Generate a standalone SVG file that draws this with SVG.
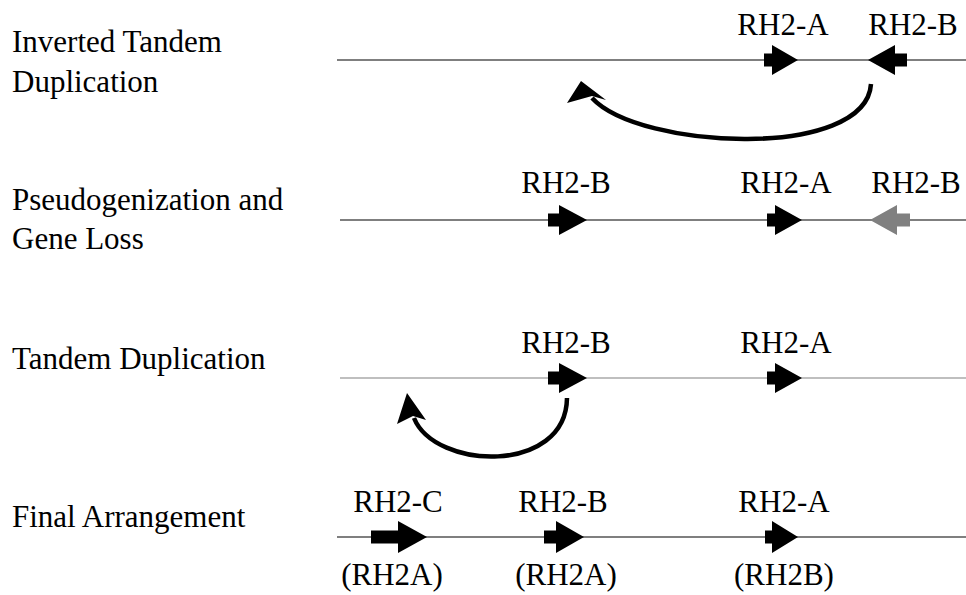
<svg xmlns="http://www.w3.org/2000/svg" width="966" height="595" viewBox="0 0 966 595">
<style>
text{font-family:"Liberation Serif","Times New Roman","DejaVu Serif",serif;font-size:31px;fill:#000}
.gl{text-anchor:middle}
.ln{stroke:#555;stroke-width:1.5;fill:none}
.ln3{stroke:#aaa;stroke-width:1.5;fill:none}
.g{fill:#000}
.gray{fill:#808080}
.cv{stroke:#000;stroke-width:4.5;fill:none}
</style>
<rect width="966" height="595" fill="#fff"/>
<g id="labels">
<text x="12" y="52">Inverted Tandem</text>
<text x="12" y="92">Duplication</text>
<text x="12" y="210">Pseudogenization and</text>
<text x="12" y="249">Gene Loss</text>
<text x="12" y="369">Tandem Duplication</text>
<text x="12" y="527">Final Arrangement</text>
</g>
<g id="row1">
<line class="ln" x1="337" y1="60" x2="966" y2="60"/>
<g id="r1-A"><path class="g" d="M764,53.5H772V45L798,60L772,75V66.5H764Z"/><text class="gl" x="783" y="35">RH2-A</text></g>
<g id="r1-B"><path class="g" d="M907,53.5H895V45L868,60L895,75V66.5H907Z"/><text class="gl" x="913" y="35">RH2-B</text></g>
</g>
<g id="row2">
<line class="ln" x1="340" y1="220" x2="966" y2="220"/>
<g id="r2-B"><path class="g" d="M548,213.5H559V205L587,220L559,235V226.5H548Z"/><text class="gl" x="566" y="193">RH2-B</text></g>
<g id="r2-A"><path class="g" d="M767,213.5H775V205L802,220L775,235V226.5H767Z"/><text class="gl" x="786" y="193">RH2-A</text></g>
<g id="r2-Bpseudo"><path class="gray" d="M910,213.5H897V205L870,220L897,235V226.5H910Z"/><text class="gl" x="916" y="193">RH2-B</text></g>
</g>
<g id="row3">
<line class="ln3" x1="340" y1="378" x2="966" y2="378"/>
<g id="r3-B"><path class="g" d="M548,371.5H559V363L587,378L559,393V384.5H548Z"/><text class="gl" x="566" y="353">RH2-B</text></g>
<g id="r3-A"><path class="g" d="M767,371.5H775V363L802,378L775,393V384.5H767Z"/><text class="gl" x="786" y="353">RH2-A</text></g>
</g>
<g id="row4">
<line class="ln" x1="337" y1="537" x2="966" y2="537"/>
<g id="r4-C"><path class="g" d="M371,530.5H398V521L427,537L398,553V543.5H371Z"/><text class="gl" x="398" y="512">RH2-C</text><text class="gl" x="392" y="585">(RH2A)</text></g>
<g id="r4-B"><path class="g" d="M544,530.5H556V521L584,537L556,553V543.5H544Z"/><text class="gl" x="563" y="512">RH2-B</text><text class="gl" x="566" y="585">(RH2A)</text></g>
<g id="r4-A"><path class="g" d="M765,530.5H772V521L798,537L772,553V543.5H765Z"/><text class="gl" x="784" y="512">RH2-A</text><text class="gl" x="784" y="585">(RH2B)</text></g>
</g>
<g id="connectors">
<path class="cv" d="M871,84C866,160 640,150 592,98"/>
<polygon class="g" points="581,81 606,100 592,96 567,103"/>
<path class="cv" d="M567,398C566,475 435,470 414,418"/>
<polygon class="g" points="407,393 426,420 413,416 397,424"/>
</g>
</svg>
